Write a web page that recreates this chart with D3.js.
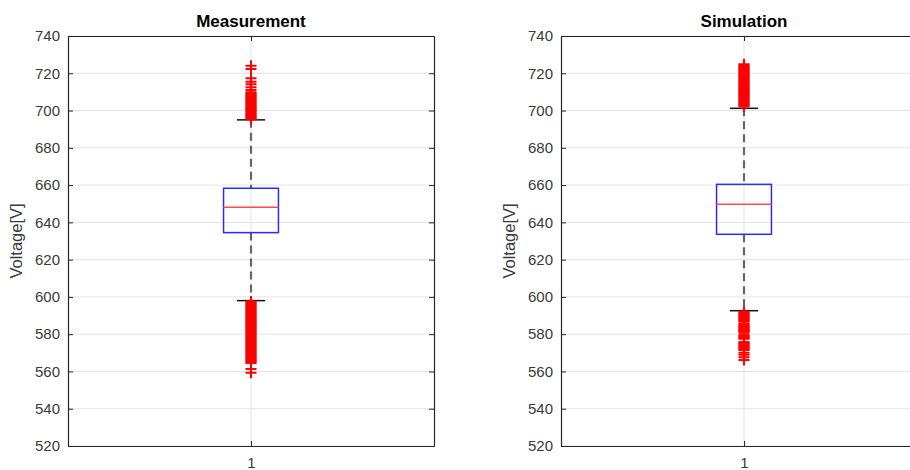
<!DOCTYPE html>
<html>
<head>
<meta charset="utf-8">
<script src="https://cdn.jsdelivr.net/npm/d3@7"></script>
<style>
  body { margin: 0; background: #fff; }
  svg { display: block; font-family: "Liberation Sans", Arial, sans-serif; }
</style>
</head>
<body>
<script>
// panel titles and the single x category
const titles = ["Measurement", "Simulation"];
const xTickLabels = ["1"];
const yTicks = [520, 540, 560, 580, 600, 620, 640, 660, 680, 700, 720, 740];

// box stats: [lower whisker, q1, median, q3, upper whisker]
const measurementStats = [598.0, 634.5, 648.1, 658.3, 695.0];
const simulationStats = [592.6, 633.6, 649.7, 660.4, 701.2];

// outliers
const measurementOutliers = [
  724.1, 722.3, 717.3, 715.5, 714.1, 712.5, 711.0,
  709.8, 709.2, 708.6, 708.1, 707.5, 707.0, 706.4, 705.8, 705.3, 704.7,
  704.2, 703.6, 703.0, 702.5, 701.9, 701.4, 700.8, 700.3, 699.7, 699.1,
  698.6, 698.0, 697.5, 696.9, 696.4, 695.8, 695.3,
  597.6, 597.0, 596.5, 595.9, 595.4, 594.8, 594.3, 593.7, 593.2, 592.6,
  592.1, 591.5, 591.0, 590.4, 589.9, 589.3, 588.8, 588.2, 587.7, 587.1,
  586.6, 586.0, 585.5, 584.9, 584.4, 583.8, 583.3, 582.7, 582.2, 581.6,
  581.1, 580.5, 580.0, 579.4, 578.9, 578.3, 577.8, 577.2, 576.7, 576.1,
  575.6, 575.0, 574.5, 573.9, 573.4, 572.8, 572.3, 571.7, 571.2, 570.6,
  570.1, 569.5, 569.0, 568.4, 567.9, 567.3, 566.8, 566.2, 565.7, 565.1,
  564.6, 561.3, 559.3
];
const simulationOutliers = [
  724.8, 724.2, 723.7, 723.1, 722.6, 722.0, 721.5, 720.9, 720.4, 719.8,
  719.3, 718.7, 718.2, 717.6, 717.1, 716.5, 716.0, 715.4, 714.9, 714.3,
  713.8, 713.2, 712.7, 712.1, 711.6, 711.0, 710.5, 709.9, 709.4, 708.8,
  708.3, 707.7, 707.2, 706.6, 706.1, 705.5, 705.0, 704.4, 703.9, 703.3,
  702.8, 702.2,
  592.1, 591.5, 591.0, 590.4, 589.9, 589.3, 588.8, 588.2, 587.7, 587.2, 586.7,
  585.5, 584.9, 584.4, 583.8, 583.3, 582.7, 582.2, 581.7, 581.3, 580.8,
  579.6, 579.0, 578.5, 577.9, 577.6,
  575.8, 575.2, 574.7, 574.1, 573.6, 573.1, 572.6, 572.0, 571.5,
  570.1, 568.9, 567.6, 566.2
];

const svgWidth = 910;
const svgHeight = 470;
const panelLeft = [68, 561];
const plotTop = 36;
const width = 366;
const height = 410;
const axisColor = "#262626";

const svg = d3.select("body")
  .append("svg")
  .attr("width", svgWidth)
  .attr("height", svgHeight);

const panels = [
  { title: titles[0], stats: measurementStats, outliers: measurementOutliers },
  { title: titles[1], stats: simulationStats, outliers: simulationOutliers }
];

panels.forEach((p, i) => {
  const g = svg.append("g")
    .attr("transform", `translate(${panelLeft[i]}, ${plotTop})`);

  const x = d3.scaleLinear().domain([0.5, 1.5]).range([0, width]);
  const y = d3.scaleLinear().domain([520, 740]).range([height, 0]);
  const cx = x(1);

  // grid
  g.append("g").selectAll("line")
    .data(yTicks)
    .join("line")
    .attr("x1", 0).attr("x2", width)
    .attr("y1", d => y(d)).attr("y2", d => y(d))
    .attr("stroke", "#e3e3e3");
  g.append("line")
    .attr("x1", cx).attr("x2", cx)
    .attr("y1", 0).attr("y2", height)
    .attr("stroke", "#e3e3e3");

  const [lo, q1, med, q3, hi] = p.stats;
  const boxHalf = (x(1.075) - x(1));
  const capHalf = (x(1.0385) - x(1));

  // whiskers
  g.append("line")
    .attr("x1", cx).attr("x2", cx)
    .attr("y1", y(hi)).attr("y2", y(q3))
    .attr("stroke", "#666").attr("stroke-width", 2.2)
    .attr("stroke-dasharray", "8,5");
  g.append("line")
    .attr("x1", cx).attr("x2", cx)
    .attr("y1", y(q1)).attr("y2", y(lo))
    .attr("stroke", "#666").attr("stroke-width", 2.2)
    .attr("stroke-dasharray", "8,5");

  // caps
  g.selectAll(".cap")
    .data([lo, hi])
    .join("line")
    .attr("class", "cap")
    .attr("x1", cx - capHalf).attr("x2", cx + capHalf)
    .attr("y1", d => y(d)).attr("y2", d => y(d))
    .attr("stroke", "#111").attr("stroke-width", 1.5);

  // box
  g.append("rect")
    .attr("x", cx - boxHalf)
    .attr("y", y(q3))
    .attr("width", boxHalf * 2)
    .attr("height", y(q1) - y(q3))
    .attr("fill", "none")
    .attr("stroke", "#2b2bff").attr("stroke-width", 1.5);

  g.append("line")
    .attr("x1", cx - boxHalf).attr("x2", cx + boxHalf)
    .attr("y1", y(med)).attr("y2", y(med))
    .attr("stroke", "#ff4a4a").attr("stroke-width", 1.5);

  // outliers as plus markers
  g.append("g").selectAll("path")
    .data(p.outliers)
    .join("path")
    .attr("transform", d => `translate(${cx}, ${y(d)})`)
    .attr("d", "M-5.5,0H5.5M0,-5.5V5.5")
    .attr("fill", "none")
    .attr("stroke", "red").attr("stroke-width", 2);

  // axes, ticks pointing inward
  const leftAxis = g.append("g")
    .call(d3.axisLeft(y).tickValues(yTicks).tickSizeInner(-5).tickSizeOuter(0).tickPadding(8));
  const rightAxis = g.append("g")
    .attr("transform", `translate(${width}, 0)`)
    .call(d3.axisRight(y).tickValues(yTicks).tickSizeInner(-5).tickSizeOuter(0).tickFormat(""));
  const bottomAxis = g.append("g")
    .attr("transform", `translate(0, ${height})`)
    .call(d3.axisBottom(x).tickValues([1]).tickFormat((d, j) => xTickLabels[j])
      .tickSizeInner(-5).tickSizeOuter(0).tickPadding(11));
  const topAxis = g.append("g")
    .call(d3.axisTop(x).tickValues([1]).tickSizeInner(-5).tickSizeOuter(0).tickFormat(""));

  [leftAxis, rightAxis, bottomAxis, topAxis].forEach(a => {
    a.select(".domain").attr("stroke", axisColor).attr("stroke-width", 1.2);
    a.selectAll(".tick line").attr("stroke", axisColor);
    a.selectAll("text")
      .attr("fill", "#3a3a3a")
      .style("font-size", "15px")
      .style("font-family", "'Liberation Sans', Arial, sans-serif");
  });

  // title and y label
  g.append("text")
    .attr("x", cx)
    .attr("y", -9)
    .attr("text-anchor", "middle")
    .style("font-size", "17px")
    .style("font-weight", "bold")
    .attr("fill", "#000")
    .text(p.title);

  g.append("text")
    .attr("transform", `translate(-46, ${height / 2}) rotate(-90)`)
    .attr("text-anchor", "middle")
    .style("font-size", "16.5px")
    .attr("fill", "#3a3a3a")
    .text("Voltage[V]");
});
</script>
</body>
</html>
